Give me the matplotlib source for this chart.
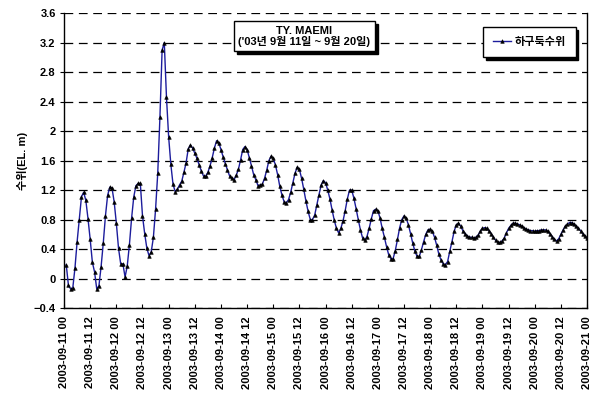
import numpy as np
import pandas as pd
import matplotlib
matplotlib.use("Agg")
import matplotlib.pyplot as plt
import matplotlib.dates as mdates
from matplotlib.patches import Rectangle
from matplotlib.ticker import FixedLocator, FuncFormatter

plt.rcParams['font.family'] = ['Liberation Sans', 'Noto Sans CJK KR', 'DejaVu Sans']
plt.rcParams['font.weight'] = 'bold'
plt.rcParams['axes.labelweight'] = 'bold'
plt.rcParams['font.size'] = 8

# hourly water level at the estuary barrage, 2003-09-11 01h .. 2003-09-21 00h
level = [
    0.19, -0.09, -0.14, -0.13, 0.14, 0.50, 0.80, 1.11, 1.17, 1.06,
    0.81, 0.53, 0.22, 0.09, -0.14, -0.10, 0.16, 0.48, 0.85, 1.13,
    1.24, 1.23, 1.04, 0.75, 0.41, 0.20, 0.20, 0.02, 0.17, 0.46,
    0.82, 1.11, 1.26, 1.29, 1.29, 0.85, 0.61, 0.41, 0.31, 0.36,
    0.56, 0.94, 1.43, 2.19, 3.10, 3.20, 2.46, 1.92, 1.55, 1.28,
    1.18, 1.21, 1.27, 1.32, 1.44, 1.57, 1.76, 1.81, 1.77, 1.70,
    1.63, 1.54, 1.46, 1.39, 1.39, 1.44, 1.53, 1.64, 1.77, 1.87,
    1.84, 1.75, 1.65, 1.56, 1.47, 1.39, 1.36, 1.34, 1.40, 1.48,
    1.61, 1.75, 1.79, 1.75, 1.64, 1.53, 1.41, 1.34, 1.26, 1.27,
    1.28, 1.36, 1.47, 1.60, 1.66, 1.63, 1.54, 1.41, 1.25, 1.13,
    1.04, 1.03, 1.07, 1.17, 1.30, 1.43, 1.51, 1.48, 1.36, 1.21,
    1.05, 0.91, 0.80, 0.80, 0.86, 1.00, 1.14, 1.27, 1.33, 1.30,
    1.20, 1.08, 0.93, 0.79, 0.68, 0.62, 0.68, 0.78, 0.92, 1.08,
    1.20, 1.20, 1.09, 0.95, 0.80, 0.66, 0.55, 0.52, 0.57, 0.68,
    0.81, 0.92, 0.94, 0.92, 0.82, 0.68, 0.56, 0.43, 0.32, 0.27,
    0.27, 0.38, 0.53, 0.69, 0.80, 0.85, 0.82, 0.73, 0.61, 0.48,
    0.37, 0.30, 0.30, 0.39, 0.50, 0.60, 0.66, 0.67, 0.64, 0.56,
    0.45, 0.33, 0.25, 0.20, 0.19, 0.23, 0.37, 0.50, 0.64, 0.73,
    0.75, 0.71, 0.65, 0.61, 0.58, 0.56, 0.56, 0.55, 0.56, 0.59,
    0.64, 0.68, 0.69, 0.68, 0.65, 0.61, 0.56, 0.52, 0.49, 0.49,
    0.51, 0.55, 0.62, 0.68, 0.72, 0.75, 0.75, 0.74, 0.73, 0.71,
    0.69, 0.67, 0.66, 0.65, 0.65, 0.64, 0.65, 0.65, 0.66, 0.66,
    0.66, 0.64, 0.61, 0.57, 0.53, 0.51, 0.54, 0.60, 0.66, 0.71,
    0.74, 0.76, 0.76, 0.74, 0.71, 0.68, 0.65, 0.61, 0.58, 0.55,
]
times = pd.date_range('2003-09-11 01:00', periods=len(level), freq='h')

y_ticks = np.arange(-0.4, 3.61, 0.4)
title_lines = ["TY. MAEMI", "('03년 9월 11일 ~ 9월 20일)"]
series_name = "하구둑수위"

fig = plt.figure(figsize=(5.93, 3.99), dpi=100)
ax = fig.add_axes([0.108, 0.228, 0.882, 0.739])

ax.plot(times, level, color='#1c1c9c', lw=1.0, marker='^', ms=2.6,
        mfc='black', mec='black', mew=0.4, label=series_name, zorder=3)

ax.set_xlim(pd.Timestamp('2003-09-11 00:00'), pd.Timestamp('2003-09-21 00:00'))
ax.set_ylim(-0.4, 3.6)

ax.yaxis.set_major_locator(FixedLocator(y_ticks))
ax.yaxis.set_major_formatter(FuncFormatter(
    lambda v, p: f"{round(v, 1):g}".replace('-', '\u2212')))
ax.xaxis.set_major_locator(mdates.HourLocator(byhour=[0, 12]))
ax.xaxis.set_major_formatter(mdates.DateFormatter('%Y-%m-%d %H'))
for lab in ax.get_xticklabels():
    lab.set_rotation(90)
ax.tick_params(axis='x', direction='in', length=3, width=0.8, pad=6)
ax.tick_params(axis='y', direction='out', length=3, width=0.8, pad=3)

ax.grid(axis='y', color='black', lw=0.9, linestyle=(0, (7, 4.5)))
ax.spines['top'].set_visible(False)
for side in ('left', 'right', 'bottom'):
    ax.spines[side].set_linewidth(1.0)

ax.set_ylabel("수위(EL. m)", labelpad=4)

# title box, with a solid drop shadow placed behind it once its size is known
title_txt = ax.text(0.459, 0.922, "\n".join(title_lines), transform=ax.transAxes,
                    ha='center', va='center', linespacing=1.0, zorder=5,
                    bbox=dict(boxstyle='square,pad=0.4', fc='white',
                              ec='black', lw=1))

leg = ax.legend(loc='center', bbox_to_anchor=(0.89, 0.903), fancybox=False,
                edgecolor='black', framealpha=1, handlelength=1.6,
                borderpad=0.9, handletextpad=0.3,
                shadow={'color': 'black', 'alpha': 1})
leg.get_frame().set_linewidth(1.0)
leg.set_zorder(6)

fig.canvas.draw()
bb = title_txt.get_bbox_patch().get_window_extent()
inv = ax.transAxes.inverted()
(x0, y0), (x1, y1) = inv.transform([(bb.x0 + 3, bb.y0 - 3), (bb.x1 + 3, bb.y1 - 3)])
ax.add_patch(Rectangle((x0, y0), x1 - x0, y1 - y0, transform=ax.transAxes,
                       fc='black', ec='black', zorder=4, clip_on=False))

fig.savefig('out.png', dpi=100)
